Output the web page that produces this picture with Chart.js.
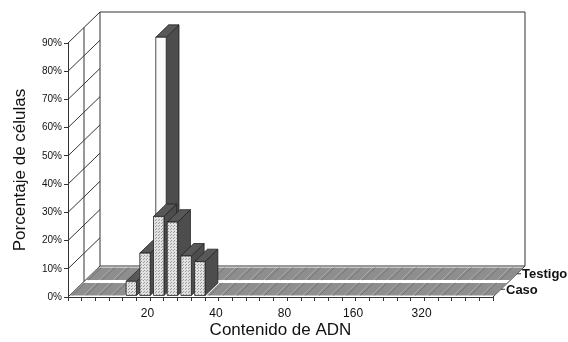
<!DOCTYPE html>
<html>
<head>
<meta charset="utf-8">
<script src="https://cdn.jsdelivr.net/npm/chart.js@4.4.1/dist/chart.umd.min.js"></script>
<style>html,body{margin:0;padding:0;background:#fff}</style>
</head>
<body>
<canvas id="grafico" width="568" height="342"></canvas>
<script>
// Categorías del eje X (contenido de ADN): sólo cada cinco lleva rótulo
const categorias = ['', '', '', '', '', '20', '', '', '', '', '40', '', '', '', '', '80', '', '', '', '', '160', '', '', '', '', '320', '', '', '', '', ''];
// Porcentaje de células por serie
const caso    = [0, 0, 0, 0, 5, 15, 28, 26, 14, 12, 0, 0, 0, 0, 0, 0, 0, 0, 0, 0, 0, 0, 0, 0, 0, 0, 0, 0, 0, 0, 0];
const testigo = [0, 0, 0, 0, 0, 86, 0, 0, 0, 0, 0, 0, 0, 0, 0, 0, 0, 0, 0, 0, 0, 0, 0, 0, 0, 0, 0, 0, 0, 0, 0];
const nombresSeries = ['Caso', 'Testigo'];
// Valores del eje Y
const valoresY = [0, 10, 20, 30, 40, 50, 60, 70, 80, 90];

Chart.defaults.font.family = "'Liberation Sans', Arial, sans-serif";

// vector de profundidad del piso (frente -> fondo)
const PROF = { x: 32, y: -31 };
const proy = (x, y, z) => [x + z * PROF.x, y + z * PROF.y];

// trama punteada para el frente de las barras "Caso"
function trama(fondo, punto) {
    const c = document.createElement('canvas');
    c.width = 3; c.height = 3;
    const g = c.getContext('2d');
    g.fillStyle = fondo; g.fillRect(0, 0, 3, 3);
    g.fillStyle = punto; g.fillRect(0, 0, 1, 1); g.fillRect(2, 1, 1, 1);
    return c;
}

function linea(ctx, a, b) {
    ctx.beginPath();
    ctx.moveTo(a[0], a[1]);
    ctx.lineTo(b[0], b[1]);
    ctx.stroke();
}

function poligono(ctx, pts, relleno, borde) {
    ctx.beginPath();
    pts.forEach((p, i) => i ? ctx.lineTo(p[0], p[1]) : ctx.moveTo(p[0], p[1]));
    ctx.closePath();
    ctx.fillStyle = relleno;
    ctx.fill();
    if (borde) { ctx.strokeStyle = borde; ctx.stroke(); }
}

// dibuja una barra como caja 3D
function caja(ctx, xl, xr, yt, yb, z0, z1, colFrente) {
    ctx.lineWidth = 0.8;
    poligono(ctx, [proy(xr, yt, z0), proy(xr, yt, z1), proy(xr, yb, z1), proy(xr, yb, z0)], '#4d4d4d', '#222');
    poligono(ctx, [proy(xl, yt, z0), proy(xr, yt, z0), proy(xr, yt, z1), proy(xl, yt, z1)], '#585858', '#222');
    poligono(ctx, [proy(xl, yt, z0), proy(xr, yt, z0), proy(xr, yb, z0), proy(xl, yb, z0)], colFrente, '#222');
}

// barra de valor cero: sólo la tapa, como franja gris
function tapa(ctx, xl, xr, yb, z0, z1) {
    ctx.lineWidth = 0.7;
    poligono(ctx, [proy(xl, yb, z0), proy(xr, yb, z0), proy(xr, yb, z1), proy(xl, yb, z1)], '#8e8e8e', null);
    ctx.strokeStyle = '#6c6c6c';
    linea(ctx, proy(xl + 3, yb, z0), proy(xl + 3, yb, z1));
}

const barras3d = {
    id: 'barras3d',
    beforeDatasetsDraw(chart) {
        const { ctx, scales: { x, y } } = chart;
        const izq = x.left, der = x.right;
        const base = y.getPixelForValue(0), tope = y.getPixelForValue(90);
        ctx.save();
        ctx.strokeStyle = '#333';
        ctx.lineWidth = 1;

        // pared izquierda con líneas de grilla
        valoresY.forEach(v => {
            const py = y.getPixelForValue(v);
            linea(ctx, proy(izq, py, 0), proy(izq, py, 1));
        });
        linea(ctx, proy(izq, base, 0.5), proy(izq, tope, 0.5));
        linea(ctx, proy(izq, base, 1), proy(izq, tope, 1));
        // pared del fondo
        linea(ctx, proy(izq, tope, 1), proy(der, tope, 1));
        linea(ctx, proy(der, tope, 1), proy(der, base, 1));
        linea(ctx, proy(izq, base, 1), proy(der, base, 1));
        // borde derecho del piso (eje de series)
        linea(ctx, proy(der, base, 0), proy(der, base, 1));

        const paso = x.getPixelForValue(1) - x.getPixelForValue(0);
        const ancho = paso * 0.76;
        const puntos = ctx.createPattern(trama('#e2e2e2', '#9a9a9a'), 'repeat');
        // fila del fondo primero, luego la del frente
        const filas = [
            { ds: 1, z0: 0.55, z1: 0.95, frente: '#fbfbfb' },
            { ds: 0, z0: 0.05, z1: 0.45, frente: puntos },
        ];
        filas.forEach(f => {
            const datos = chart.data.datasets[f.ds].data;
            datos.forEach((v, i) => {
                const cx = x.getPixelForValue(i);
                if (v > 0) {
                    caja(ctx, cx - ancho / 2, cx + ancho / 2, y.getPixelForValue(v), base, f.z0, f.z1, f.frente);
                } else {
                    tapa(ctx, cx - paso / 2, cx + paso / 2, base, f.z0, f.z1);
                }
            });
        });

        // rótulos de las series
        ctx.fillStyle = '#111';
        ctx.strokeStyle = '#333';
        ctx.lineWidth = 1;
        ctx.font = "bold 13px 'Liberation Sans', Arial, sans-serif";
        ctx.textBaseline = 'middle';
        ctx.textAlign = 'left';
        [[0, 0.25], [1, 0.75]].forEach(([ds, z]) => {
            const p = proy(der, base, z);
            linea(ctx, p, [p[0] + 4, p[1]]);
            ctx.fillText(nombresSeries[ds], p[0] + 5, p[1] + 1);
        });
        ctx.restore();
    }
};

new Chart(document.getElementById('grafico').getContext('2d'), {
    type: 'bar',
    data: {
        labels: categorias,
        datasets: [
            { label: nombresSeries[0], data: caso, backgroundColor: 'rgba(0,0,0,0)', borderWidth: 0 },
            { label: nombresSeries[1], data: testigo, backgroundColor: 'rgba(0,0,0,0)', borderWidth: 0 },
        ],
    },
    options: {
        responsive: false,
        animation: false,
        layout: { padding: { top: 43, right: 75, bottom: 0, left: 6 } },
        plugins: { legend: { display: false } },
        scales: {
            x: {
                offset: true,
                grid: { display: true, drawOnChartArea: false, tickLength: 4, color: '#333', offset: true },
                border: { color: '#333' },
                ticks: { autoSkip: false, maxRotation: 0, color: '#111', font: { size: 12 }, padding: 5, labelOffset: 4 },
                title: { display: true, text: 'Contenido de ADN', color: '#111', font: { size: 17 }, padding: { top: 0, bottom: 1 } },
                afterFit: s => { s.height = 45; },
            },
            y: {
                min: 0,
                max: 90,
                afterBuildTicks: s => { s.ticks = valoresY.map(v => ({ value: v })); },
                ticks: { callback: v => v + '%', color: '#111', font: { size: 10 }, padding: 2 },
                grid: { drawOnChartArea: false, tickLength: 4, color: '#333' },
                border: { color: '#333' },
                title: { display: true, text: 'Porcentaje de células', color: '#111', font: { size: 17 } },
                afterFit: s => { s.width = 62; },
            },
        },
    },
    plugins: [barras3d],
});
</script>
</body>
</html>
